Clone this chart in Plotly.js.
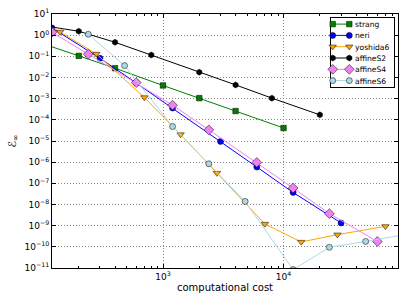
<!DOCTYPE html>
<html><head><meta charset="utf-8">
<script src="https://cdn.plot.ly/plotly-3.0.1.min.js"></script>
<style>html,body{margin:0;padding:0;background:#fff}#chart{width:407px;height:305px}</style>
</head><body><div id="chart"></div>
<script>
// Data
const seriesNames = ["strang", "neri", "yoshida6", "affineS2", "affineS4", "affineS6"];

const strangCost = [100, 200, 400, 1000, 2000, 4000, 10000];
const strangErr  = [0.40, 0.105, 0.0275, 4.2e-3, 1.06e-3, 2.6e-4, 4.1e-5];

const neriCost = [120, 300, 600, 1200, 3000, 6000, 12000, 30000];
const neriErr  = [2.2, 0.081, 5.5e-3, 3.6e-4, 9.5e-6, 5.9e-7, 3.7e-8, 1.34e-9];

const yoshida6Cost = [70, 140, 280, 700, 1400, 2800, 7000, 14000, 28000, 70000];
const yoshida6Err  = [12, 1.42, 0.13, 1.15e-3, 2.03e-5, 3.06e-7, 1.2e-9, 1.7e-10, 3.76e-10, 9.3e-10];

const affineS2Cost = [80, 200, 400, 800, 2000, 4000, 8000, 20000];
const affineS2Err  = [3.5, 1.53, 0.462, 0.116, 0.0178, 4.48e-3, 1.06e-3, 1.72e-4];

const affineS4Cost = [120, 240, 600, 1200, 2400, 6000, 12000, 24000, 60000];
const affineS4Err  = [1.37, 0.126, 5.74e-3, 4.93e-4, 3.37e-5, 9.7e-7, 6.0e-8, 3.7e-9, 1.8e-10];

const affineS6Cost = [240, 480, 1200, 2400, 4800, 12000, 24000, 48000, 120000];
const affineS6Err  = [1.1, 0.0364, 4.83e-5, 8.4e-7, 1.4e-8, 8.4e-12, 9.5e-11, 1.8e-10, 4.5e-10];

const yTickExps = [1, 0, -1, -2, -3, -4, -5, -6, -7, -8, -9, -10, -11];
const xTickExps = [3, 4];

const styles = [
  {line: "#008000", fill: "#008000", symbol: "square", size: 5.5},
  {line: "#0000ff", fill: "#0000ff", symbol: "circle", size: 6},
  {line: "#ffa500", fill: "#ffa500", symbol: "triangle-down", size: 6.5},
  {line: "#000000", fill: "#000000", symbol: "hexagon", size: 6},
  {line: "#ee82ee", fill: "#ee82ee", symbol: "diamond", size: 7.5},
  {line: "#add8e6", fill: "#add8e6", symbol: "circle", size: 6}
];
const xs = [strangCost, neriCost, yoshida6Cost, affineS2Cost, affineS4Cost, affineS6Cost];
const ys = [strangErr, neriErr, yoshida6Err, affineS2Err, affineS4Err, affineS6Err];

const traces = seriesNames.map((n, i) => ({
  type: "scatter", mode: "lines+markers", name: n,
  x: xs[i], y: ys[i],
  line: {color: styles[i].line, width: 1},
  marker: {symbol: styles[i].symbol, size: styles[i].size, color: styles[i].fill,
           line: {color: "#000", width: 0.5}},
  cliponaxis: true
}));

const minorVals = [];
for (let k = 2; k <= 4; k++) for (let m = 2; m <= 9; m++) minorVals.push(m * Math.pow(10, k));

const sup = e => "10<sup>" + (e < 0 ? "\u2212" + (-e) : e) + "</sup>";

const FF = "DejaVu Sans, sans-serif";
const layout = {
  width: 407, height: 305,
  margin: {l: 52, r: 9, t: 14, b: 37},
  paper_bgcolor: "#fff", plot_bgcolor: "#fff",
  font: {family: FF, size: 8, color: "#000"},
  showlegend: true,
  legend: {x: 0.99, xanchor: "right", y: 0.985, yanchor: "top",
           bordercolor: "#000", borderwidth: 1, bgcolor: "#fff",
           font: {family: FF, size: 7.6, color: "#000"}},
  xaxis: {
    type: "log", range: [Math.log10(120), Math.log10(89000)],
    tickmode: "array", tickvals: xTickExps.map(e => Math.pow(10, e)), ticktext: xTickExps.map(sup),
    ticks: "inside", ticklen: 4, tickcolor: "#000",
    minor: {tickmode: "array", tickvals: minorVals, ticks: "inside", ticklen: 2, tickcolor: "#000", showgrid: false},
    showline: true, linecolor: "#000", linewidth: 1, mirror: "ticks",
    showgrid: true, gridcolor: "#888", griddash: "1px,2px", gridwidth: 1,
    zeroline: false,
    tickfont: {family: FF, size: 9, color: "#000"},
    title: {text: "computational cost", font: {family: FF, size: 10, color: "#000"}, standoff: 3}
  },
  yaxis: {
    type: "log", range: [-11, 1],
    tickmode: "array", tickvals: yTickExps.map(e => Math.pow(10, e)), ticktext: yTickExps.map(sup),
    ticks: "inside", ticklen: 4, tickcolor: "#000",
    showline: true, linecolor: "#000", linewidth: 1, mirror: "ticks",
    showgrid: true, gridcolor: "#888", griddash: "1px,2px", gridwidth: 1,
    zeroline: false,
    tickfont: {family: FF, size: 9, color: "#000"},
    title: {text: "\u2130<sub>\u221e</sub>", font: {family: FF, size: 11, color: "#000"}, standoff: 5}
  }
};

// Compact matplotlib-like legend layout (styling only)
function compactLegend(gd) {
  const leg = gd.querySelector(".legend");
  if (!leg) return;
  const W = 64, top = 6.6, step = 11.3, x0 = 2.7, x1 = 19.3, tx = 25;
  const items = leg.querySelectorAll(".traces");
  const H = top * 2 + step * (items.length - 1) + 0.5;
  leg.setAttribute("transform", "translate(330,17.5)");
  const bg = leg.querySelector("rect.bg");
  if (bg) {
    bg.setAttribute("x", 0); bg.setAttribute("y", 0);
    bg.setAttribute("width", W); bg.setAttribute("height", H);
  }
  const sb = leg.querySelector(".scrollbox");
  if (sb) { sb.setAttribute("transform", "translate(0,0)"); sb.removeAttribute("clip-path"); }
  const groups = leg.querySelectorAll(".groups");
  groups.forEach(g => g.setAttribute("transform", "translate(0,0)"));
  items.forEach((g, i) => {
    g.setAttribute("transform", "translate(0," + (top + i * step) + ")");
    g.querySelectorAll("path.js-line").forEach(p => p.setAttribute("d", "M" + x0 + ",0H" + x1));
    const pts = g.querySelectorAll("path.scatterpts");
    pts.forEach(p => {
      p.setAttribute("transform", "translate(" + x0 + ",0)");
      const c = p.cloneNode(true);
      c.setAttribute("transform", "translate(" + x1 + ",0)");
      p.parentNode.appendChild(c);
    });
    const t = g.querySelector("text.legendtext");
    if (t) {
      t.setAttribute("x", tx);
      t.querySelectorAll("tspan").forEach(s => { if (s.hasAttribute("x")) s.setAttribute("x", tx); });
    }
  });
}

Plotly.newPlot("chart", traces, layout, {displayModeBar: false, staticPlot: true}).then(compactLegend);
</script></body></html>
